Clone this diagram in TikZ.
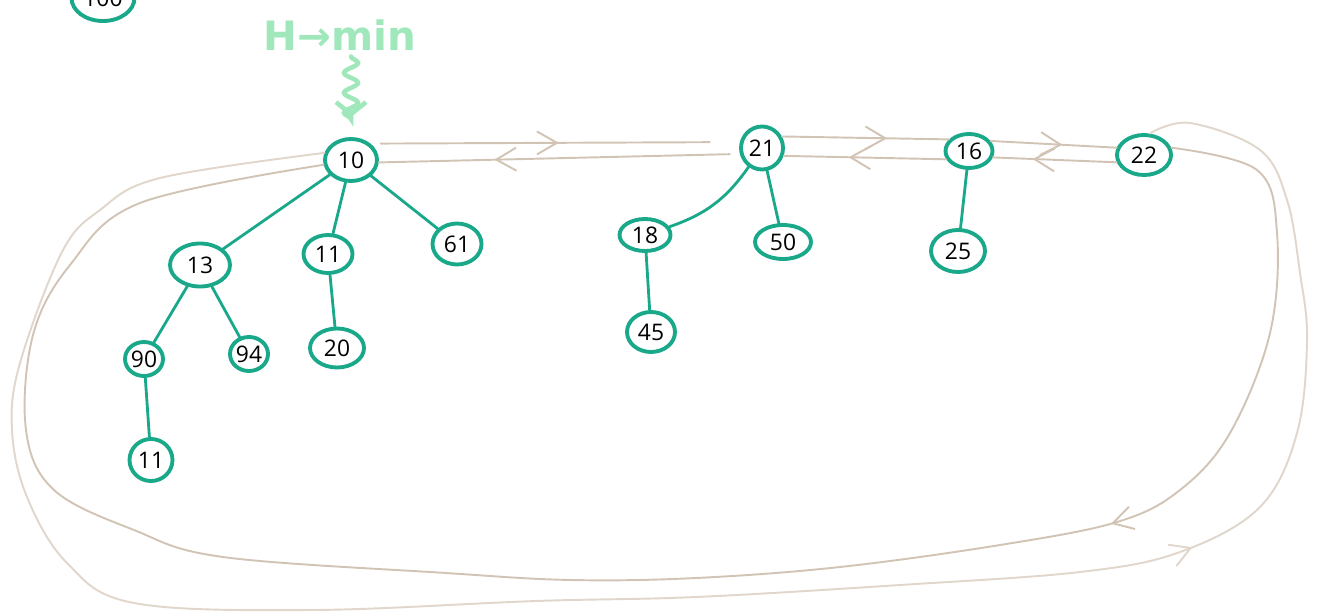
\documentclass[tikz,border=0pt]{standalone}
\usepackage{fontspec}
\setmainfont{Open Sans}
\newfontfamily\labelfont{DejaVu Sans}
\usetikzlibrary{shapes.geometric}
\usetikzlibrary{arrows.meta}
\usetikzlibrary{decorations.pathmorphing,decorations.markings}

\definecolor{heapgreen}{RGB}{26,168,138}
\definecolor{linktan}{RGB}{210,196,181}
\definecolor{linkpale}{RGB}{224,214,203}
\definecolor{minlabel}{RGB}{160,232,188}

\tikzset{
    heapkey/.style 2 args={ellipse, draw=heapgreen, line width=2.2pt, inner sep=0pt,
        minimum width={(#1-4)*0.2mm}, minimum height={(#2-4)*0.2mm},
        font=\fontsize{13}{15}\selectfont},
    child/.style={draw=heapgreen, line width=1.6pt, line cap=round},
    link/.style={draw=linktan, line width=1.1pt, line cap=round},
    chev/.style={postaction={decorate, decoration={markings,
        mark=at position #1 with {\arrow{Straight Barb[length=4mm,width=4.6mm]}}}}},
}

\begin{document}
\begin{tikzpicture}[x=0.2mm, y=-0.2mm]
    \useasboundingbox (0,0) rectangle (1317,613);

    % roots
    \node[heapkey={67}{50}] (n100) at (103,-2) {100};
    \node[heapkey={56}{46}] (n10) at (351,160) {10};
    \node[heapkey={46}{47}] (n21) at (762,148) {21};
    \node[heapkey={51}{38}] (n16) at (969,151) {16};
    \node[heapkey={58}{44}] (n22) at (1144,155) {22};

    % children
    \node[heapkey={64}{47}] (n13) at (200,265) {13};
    \node[heapkey={53}{42}] (n11) at (328,254) {11};
    \node[heapkey={53}{45}] (n61) at (457,244) {61};
    \node[heapkey={42}{38}] (n90) at (144,359) {90};
    \node[heapkey={42}{38}] (n94) at (249,354) {94};
    \node[heapkey={58}{43}] (n20) at (337,348) {20};
    \node[heapkey={47}{46}] (n11x) at (151,460) {11};
    \node[heapkey={55}{36}] (n18) at (645,235) {18};
    \node[heapkey={60}{38}] (n50) at (783,242) {50};
    \node[heapkey={52}{44}] (n45) at (651,332) {45};
    \node[heapkey={58}{46}] (n25) at (958,251) {25};

    \draw[child] (n10) -- (n13);
    \draw[child] (n10) -- (n11);
    \draw[child] (n10) -- (n61);
    \draw[child] (n13) -- (n90);
    \draw[child] (n13) -- (n94);
    \draw[child] (n11) -- (n20);
    \draw[child] (n90) -- (n11x);
    \draw[child] (n21) to[bend left=18] (n18);
    \draw[child] (n21) -- (n50);
    \draw[child] (n18) -- (n45);
    \draw[child] (n16) -- (n25);

    % root list, both directions
    \draw[link, chev=0.51, shorten <=2mm, shorten >=6mm] (n10.40) -- (n21.165);
    \draw[link, chev=0.68, shorten <=2mm] (n21.195) -- (n10.-5);
    \draw[link, chev=0.63] (n21.30) -- (n16.150);
    \draw[link, chev=0.6] (n16.200) -- (n21.-20);
    \draw[link, chev=0.57] (n16.25) -- (n22.165);
    \draw[link, chev=0.68] (n22.195) -- (n16.-15);

    % wrap around
    \draw[link, draw=linkpale, chev=0.755] plot[smooth, tension=0.6] coordinates {(n10.165) (160,178) (100,210) (62,252) (20,363) (12,430) (27,497) (67,563) (134,603) (312,610) (536,601) (696,597) (900,585) (1080,572) (1180,552) (1260,507) (1297,433) (1307,340) (1300,273) (1287,200) (1260,150) (1190,123) (n22.75)};
    \draw[link, chev=0.245] plot[smooth, tension=0.6] coordinates {(n22.15) (1257,170) (1277,233) (1270,333) (1230,433) (1180,490) (1117,522) (1000,545) (840,567) (696,578) (571,580) (446,573) (223,557) (134,530) (54,490) (26,430) (33,335) (70,265) (140,203) (n10.190)};

    % min pointer
    \node[text=minlabel, font=\labelfont\bfseries\fontsize{23}{26}\selectfont] (hmin) at (340,35) {H→min};
    \draw[draw=minlabel, line width=2.6pt, line cap=round,
        decorate, decoration={snake, amplitude=1.4mm, segment length=4mm, post length=2.5mm},
        -{Straight Barb[length=2.4mm,width=6mm]}, shorten >=4mm]
        (hmin.south -| n10) -- (n10.north);
\end{tikzpicture}
\end{document}
